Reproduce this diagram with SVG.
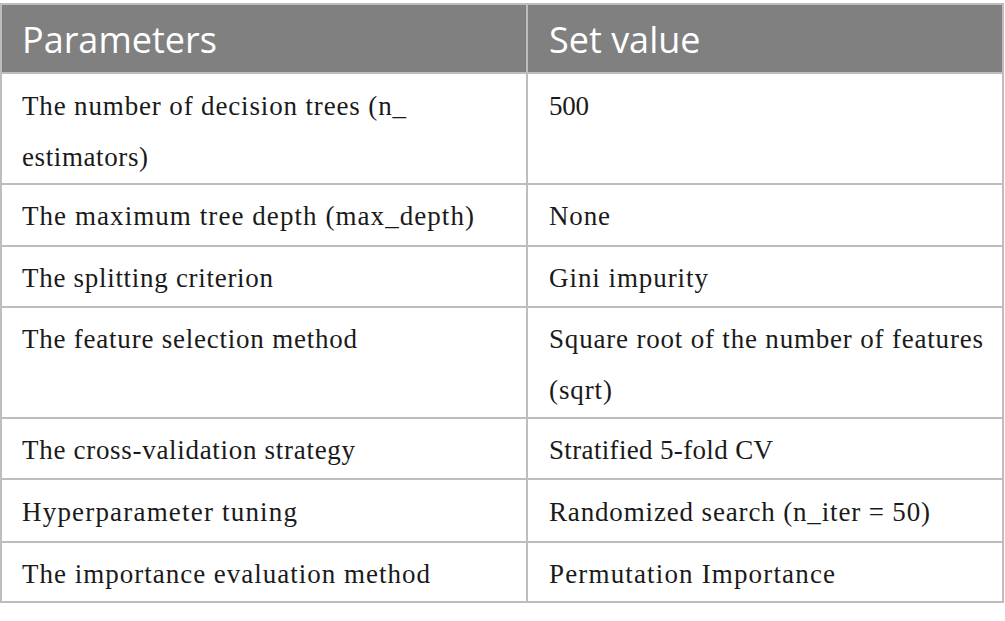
<svg xmlns="http://www.w3.org/2000/svg" width="1005" height="621" viewBox="0 0 1005 621">
<style>
.hd{font-family:"Open Sans","Noto Sans","Liberation Sans",sans-serif;font-size:36px;fill:#ffffff}
.tx{font-family:"Liberation Serif","DejaVu Serif",serif;font-size:27px;fill:#1a1a1a}
.ln{stroke:#bdbdbd;stroke-width:2;fill:none}
</style>
<rect x="0" y="0" width="1005" height="621" fill="#ffffff"/>
<g id="header">
<rect x="1" y="4" width="1002" height="69" fill="#808080"/>
<text class="hd" x="22" y="53">Parameters</text>
<text class="hd" x="549" y="53">Set value</text>
</g>
<g id="grid">
<rect class="ln" x="1" y="4" width="1002" height="598"/>
<line class="ln" x1="1" y1="73" x2="1003" y2="73"/>
<line class="ln" x1="1" y1="184" x2="1003" y2="184"/>
<line class="ln" x1="1" y1="246" x2="1003" y2="246"/>
<line class="ln" x1="1" y1="307" x2="1003" y2="307"/>
<line class="ln" x1="1" y1="418" x2="1003" y2="418"/>
<line class="ln" x1="1" y1="479" x2="1003" y2="479"/>
<line class="ln" x1="1" y1="542" x2="1003" y2="542"/>
<line class="ln" x1="527" y1="4" x2="527" y2="602"/>
</g>
<g id="row1">
<text class="tx" x="22" y="115" textLength="384">The number of decision trees (n_</text>
<text class="tx" x="22" y="166" textLength="126">estimators)</text>
<text class="tx" x="549" y="115" textLength="40">500</text>
</g>
<g id="row2">
<text class="tx" x="22" y="225" textLength="452">The maximum tree depth (max_depth)</text>
<text class="tx" x="549" y="225" textLength="61">None</text>
</g>
<g id="row3">
<text class="tx" x="22" y="287" textLength="251">The splitting criterion</text>
<text class="tx" x="549" y="287" textLength="159">Gini impurity</text>
</g>
<g id="row4">
<text class="tx" x="22" y="348" textLength="335">The feature selection method</text>
<text class="tx" x="549" y="348" textLength="434">Square root of the number of features</text>
<text class="tx" x="549" y="399" textLength="63">(sqrt)</text>
</g>
<g id="row5">
<text class="tx" x="22" y="459" textLength="333">The cross-validation strategy</text>
<text class="tx" x="549" y="459" textLength="224">Stratified 5-fold CV</text>
</g>
<g id="row6">
<text class="tx" x="22" y="521" textLength="275">Hyperparameter tuning</text>
<text class="tx" x="549" y="521" textLength="381">Randomized search (n_iter = 50)</text>
</g>
<g id="row7">
<text class="tx" x="22" y="583" textLength="408">The importance evaluation method</text>
<text class="tx" x="549" y="583" textLength="286">Permutation Importance</text>
</g>
</svg>
